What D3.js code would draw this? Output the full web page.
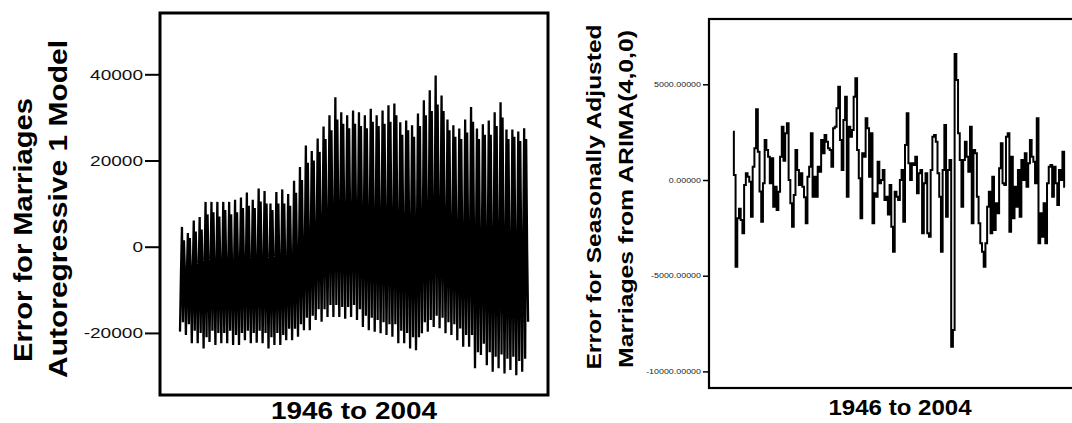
<!DOCTYPE html>
<html><head><meta charset="utf-8">
<script src="https://cdn.jsdelivr.net/npm/d3@7"></script>
<style>
body{margin:0;background:#fff;}
svg{display:block;font-family:"Liberation Sans",Arial,Helvetica,sans-serif;}
</style>
</head><body>
<svg id="c" width="1072" height="423"></svg>
<script>
// ---------------- DATA ----------------
// Left chart: Error for Marriages, Autoregressive 1 model, 1946-2004 (per-year readings)
const yearStart = 1946, yearEnd = 2004;
const arTrough = [-19700,-20500,-22400,-22400,-23600,-22100,-22800,-22400,-22400,-22800,
  -22800,-21700,-22400,-22300,-22400,-23600,-22800,-22800,-21700,-21700,
  -20900,-19400,-19400,-17000,-17400,-16300,-16300,-16300,-16700,-16300,
  -17000,-18600,-19400,-19700,-20100,-20500,-20900,-22400,-22400,-23600,
  -24000,-20100,-19700,-18600,-18900,-20100,-20500,-21700,-23200,-23200,
  -28200,-25100,-27500,-29000,-28200,-29400,-28600,-29800,-29000];
const arPeak = [4600,3200,6100,6900,10400,10400,10400,10400,10400,10900,
  11400,12600,10900,13500,12900,10000,12700,13300,12200,15300,
  18500,23500,22200,25100,27900,30500,34700,31200,30500,31600,
  31200,30500,32000,30500,31600,32800,33200,28900,29300,28200,
  30900,34000,36300,39700,35100,29500,28200,27400,29500,32400,
  27400,28400,29300,31200,33500,27200,27200,26700,27500];
const arLow2 = [-17500,-18000,-19500,-20000,-21000,-19500,-20000,-20000,-19500,-20500,
  -20000,-19500,-20000,-19500,-20000,-21000,-20000,-20500,-19000,-19000,
  -18000,-16500,-16000,-14500,-14500,-13500,-13500,-14000,-14000,-13500,
  -14500,-16000,-16500,-17000,-17500,-18000,-18000,-19500,-20000,-21000,
  -21000,-17500,-17000,-16000,-16500,-17500,-18000,-19000,-20500,-20500,
  -24500,-22500,-24500,-25500,-25000,-26000,-25500,-26500,-26000];
const arHigh2 = [1500,2000,3500,4000,7500,8000,7000,8500,7500,8000,
  9000,9500,9000,10500,10000,8500,10000,10000,9500,12500,
  15500,19500,20000,22000,25000,27000,29500,28500,27500,28500,
  28000,27500,29000,28000,28500,29000,30500,26000,27000,25500,
  28000,30500,31500,33000,31500,27000,25500,25000,26500,29000,
  25000,26000,26000,28000,30000,25000,25500,24500,25000];
const arMid = [-6000,-6500,-6000,-5500,-5000,-5500,-5000,-5000,-5500,-5000,
  -4500,-5000,-5000,-4500,-5000,-5000,-4500,-4500,-4500,-3500,
  -2000,0,1500,3000,4500,5500,6500,6500,6000,6500,
  6000,5500,5000,5000,4500,4500,4000,3500,3500,2500,
  3500,5000,6500,7500,6000,3000,2500,1500,1000,1500,
  -500,0,-500,0,1000,-1000,-1500,-1000,-500];
const arLast = -17400;
const leftTicks = [-20000, 0, 20000, 40000];

// Right chart: Error for Seasonally Adjusted Marriages from ARIMA(4,0,0)
const sa1 = [2525,261,-4529,-2000,-1500,-2090,-2786,-261,348,174,-87,-1916,697,1655,3692,1480,-600,-2177,-174,2090,
  1568,1219,-174,1132,-1393,-348,-1568,-610,1219,2787,1000,2438,2961,0,-1219,-2438,-784,1568,523,-261,
  348,-348,-900,-2264,174,697,2438,-871,174,-871,697,436,2090,1393,2351,2003,1655,1568,697,2700,
  2787,3744,4877,2090,523,3135,4354,-871,2787,2264,2612,4354,5312,1568,87,-2003,1393,1219,3222,2700,
  174,2438,-2264,-697,-871,958,-174,0];
const sa2 = [523,-1045,-871,-1800,-261,-2438,-3745,-610,-871,-1045,0,523,-2177,1829,3483,871,0,871,784,1219,
  -697,348,523,-2786,-174,348,-2786,-2961,523,2264,2351,2003,348,-871,-3745,523,2874,-1916,523,1045,
  -8709,-7838,6584,5225,2438,1045,-1393,1045,2003,1219,436,2787,-2264,1568,1393,-871,-2264,-3309,-3745,-4529,
  -3309,-1393,-610,-2786,174,-2612,-1219,-1742,610,1916,-174,-261,2264,2438,-2700,1219,-2003,-348,-1393,523,
  -1916,1045,0,1393,-348,871,2090,1219,958,-174,3222,-3309,-1742,-2961,-1219,-3309,-174,697,784,-871,
  697,-174,-1306,523,0,1480,-348];
const rightTicks = [5000, 0, -5000, -10000];

const xTitle = "1946 to 2004";
const leftTitle = ["Error for Marriages", "Autoregressive 1 Model"];
const rightTitle = ["Error for Seasonally Adjusted", "Marriages from ARIMA(4,0,0)"];

// ---------------- DRAW ----------------
const svg = d3.select("#c");
function stretch(sel, k){
  sel.each(function(){
    const w = this.getComputedTextLength();
    this.setAttribute("textLength", w * k);
    this.setAttribute("lengthAdjust", "spacingAndGlyphs");
  });
}
function fitTo(sel, len){
  sel.attr("textLength", len).attr("lengthAdjust", "spacingAndGlyphs");
}

// ----- Left panel -----
const yL = d3.scaleLinear().domain([-34400, 54220]).range([395, 13]);
const xL = d3.scaleLinear().domain([yearStart, yearEnd + 1]).range([180, 528.1]);

const leftSeries = [];
arTrough.forEach((t, i) => {
  const y0 = yearStart + i;
  const seq = [arTrough[i], arMid[i], arPeak[i], arLow2[i], arHigh2[i], arMid[i]];
  seq.forEach((v, k) => leftSeries.push({t: y0 + k / seq.length, v}));
});
leftSeries.push({t: yearEnd + 1, v: arLast});

const gL = svg.append("g");
gL.append("path")
  .datum(leftSeries)
  .attr("fill", "none")
  .attr("stroke", "#000")
  .attr("stroke-width", 2.3)
  .attr("stroke-linejoin", "bevel")
  .attr("d", d3.line().x(d => xL(d.t)).y(d => yL(d.v)));

gL.append("rect").attr("x", 160).attr("y", 13).attr("width", 388).attr("height", 382)
  .attr("fill", "none").attr("stroke", "#000").attr("stroke-width", 3);

const axL = gL.append("g").attr("transform", "translate(160,0)")
  .call(d3.axisLeft(yL).tickValues(leftTicks).tickSize(15).tickPadding(2).tickFormat(d => String(d)));
axL.select(".domain").remove();
axL.selectAll(".tick line").attr("stroke", "#000").attr("stroke-width", 2);
axL.selectAll(".tick text").attr("font-size", 15).attr("fill", "#111")
  .attr("font-family", "'Liberation Sans', Arial, sans-serif").call(stretch, 1.27);

gL.append("text").attr("x", 354).attr("y", 419).attr("text-anchor", "middle")
  .attr("font-size", 24).attr("font-weight", "bold").text(xTitle).call(fitTo, 166);

gL.append("text").attr("transform", "translate(32,230) rotate(-90)").attr("text-anchor", "middle")
  .attr("font-size", 26).attr("font-weight", "bold").text(leftTitle[0]).call(stretch, 1.12);
gL.append("text").attr("transform", "translate(67,209) rotate(-90)").attr("text-anchor", "middle")
  .attr("font-size", 26).attr("font-weight", "bold").text(leftTitle[1]).call(fitTo, 338);

// ----- Right panel -----
const rightSeries = sa1.concat(sa2);
const yR = d3.scaleLinear().domain([-10867, 8412]).range([388, 19]);
const xR = d3.scaleLinear().domain([0, rightSeries.length - 1]).range([733, 1065]);

const gR = svg.append("g");
gR.append("path")
  .datum(rightSeries)
  .attr("fill", "none")
  .attr("stroke", "#000")
  .attr("stroke-width", 2)
  .attr("d", d3.line().x((d, i) => xR(i)).y(d => yR(d)).curve(d3.curveStep));

gR.append("rect").attr("x", 709).attr("y", 19).attr("width", 420).attr("height", 369)
  .attr("fill", "none").attr("stroke", "#000").attr("stroke-width", 2.2);

const axR = gR.append("g").attr("transform", "translate(709,0)")
  .call(d3.axisLeft(yR).tickValues(rightTicks).tickSize(6).tickPadding(2).tickFormat(d => d.toFixed(5)));
axR.select(".domain").remove();
axR.selectAll(".tick line").attr("stroke", "#000").attr("stroke-width", 1.5);
axR.selectAll(".tick text").attr("font-size", 7).attr("fill", "#222")
  .attr("font-family", "'Liberation Sans', Arial, sans-serif").call(stretch, 1.27);

gR.append("text").attr("x", 900).attr("y", 415).attr("text-anchor", "middle")
  .attr("font-size", 22).attr("font-weight", "bold").text(xTitle).call(fitTo, 143);

gR.append("text").attr("transform", "translate(601,197) rotate(-90)").attr("text-anchor", "middle")
  .attr("font-size", 20).attr("font-weight", "bold").text(rightTitle[0]).call(fitTo, 345);
gR.append("text").attr("transform", "translate(633,199) rotate(-90)").attr("text-anchor", "middle")
  .attr("font-size", 20).attr("font-weight", "bold").text(rightTitle[1]).call(fitTo, 338);
</script>
</body></html>
